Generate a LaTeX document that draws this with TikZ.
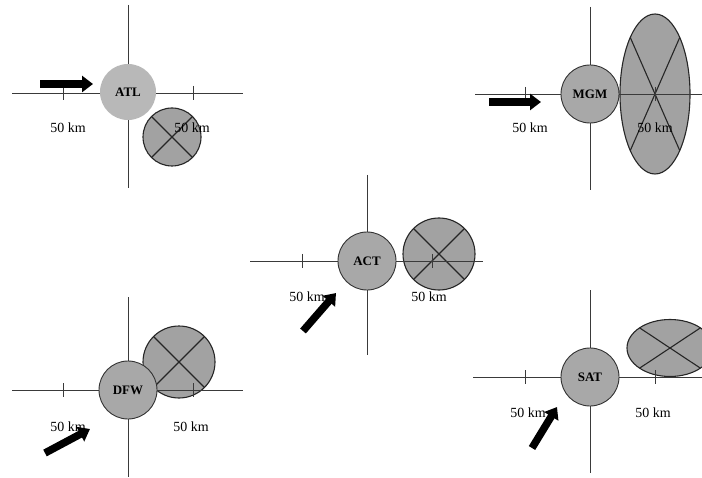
\documentclass[tikz,border=0pt]{standalone}
\usepackage{fontspec}
\setmainfont{Liberation Serif}
\usetikzlibrary{arrows.meta}
\definecolor{axisgray}{HTML}{3A3A3A}
\definecolor{stationfill}{HTML}{A8A8A8}
\definecolor{stationlight}{HTML}{B8B8B8}
\definecolor{spreadfill}{HTML}{A2A2A2}
\tikzset{
  axis/.style={draw=axisgray, line width=0.9bp},
  tick/.style={draw=axisgray, line width=0.9bp},
  station/.style={circle, minimum size=58bp, inner sep=0pt, fill=stationfill,
    draw=black!80, line width=0.9bp, font=\fontsize{13}{14}\selectfont\bfseries},
  stationplain/.style={station, fill=stationlight, draw=none},
  spread/.style={fill=spreadfill, draw=black!85, line width=1.1bp},
  cross/.style={draw=black!85, line width=1.1bp},
  dist/.style={inner sep=0pt, font=\fontsize{14}{15}\selectfont},
  motion/.style={draw=black, line width=7.5bp, -{Triangle[length=11bp,width=16bp]}}
}
\begin{document}
\begin{tikzpicture}[x=1bp, y=-1bp]
\useasboundingbox (0,0) rectangle (702,478);
\clip (0,0) rectangle (702,478);
\fill[white] (0,0) rectangle (702,478);

% ---------- spread shapes (circle or ellipse with crossed diameters) ----------
\begin{scope}[shift={(172,137)}]
  \draw[spread] (0,0) circle (29);
  \draw[cross] (45:29) -- (225:29) (135:29) -- (315:29);
\end{scope}
\begin{scope}[shift={(655,94)}, xscale=35, yscale=80]
  \draw[spread] (0,0) circle (1);
  \draw[cross] (45:1) -- (225:1) (135:1) -- (315:1);
\end{scope}
\begin{scope}[shift={(439,254)}]
  \draw[spread] (0,0) circle (36);
  \draw[cross] (45:36) -- (225:36) (135:36) -- (315:36);
\end{scope}
\begin{scope}[shift={(179,362)}]
  \draw[spread] (0,0) circle (36);
  \draw[cross] (45:36) -- (225:36) (135:36) -- (315:36);
\end{scope}
\begin{scope}[shift={(670,348)}, xscale=43, yscale=28.5]
  \draw[spread] (0,0) circle (1);
  \draw[cross] (45:1) -- (225:1) (135:1) -- (315:1);
\end{scope}

% ---------- axes with 50 km ticks ----------
% ATL
\draw[axis] (12,93) -- (243,93) (128,5) -- (128,188);
\draw[tick] (63,86) -- (63,100) (193,86) -- (193,100);
% MGM
\draw[axis] (475,94) -- (702,94) (590,7) -- (590,190);
\draw[tick] (525,87) -- (525,101) (655,87) -- (655,101);
% ACT
\draw[axis] (250,261) -- (483,261) (367,175) -- (367,355);
\draw[tick] (302,254) -- (302,268) (432,254) -- (432,268);
% DFW
\draw[axis] (12,390) -- (243,390) (128,297) -- (128,477);
\draw[tick] (63,383) -- (63,397) (193,383) -- (193,397);
% SAT
\draw[axis] (473,377) -- (702,377) (590,290) -- (590,473);
\draw[tick] (525,370) -- (525,384) (655,370) -- (655,384);

% ---------- stations ----------
\node[stationplain, minimum size=56bp] (atl) at (128,92) {ATL};
\node[station] (mgm) at (590,94) {MGM};
\node[station] (act) at (367,261) {ACT};
\node[station] (dfw) at (128,390) {DFW};
\node[station] (sat) at (590,377) {SAT};

% ---------- distance labels ----------
\node[dist] (atlL) at (68,128) {50 km};
\node[dist] (atlR) at (192,128) {50 km};
\node[dist] (mgmL) at (530,128) {50 km};
\node[dist] (mgmR) at (655,128) {50 km};
\node[dist] (actL) at (307,297) {50 km};
\node[dist] (actR) at (429,297) {50 km};
\node[dist] (dfwL) at (68,427) {50 km};
\node[dist] (dfwR) at (191,427) {50 km};
\node[dist] (satL) at (528,413) {50 km};
\node[dist] (satR) at (653,413) {50 km};

% ---------- motion arrows ----------
\coordinate (atlA) at (40,84);   \coordinate (atlB) at (93,84);
\coordinate (mgmA) at (489,102); \coordinate (mgmB) at (541,102);
\coordinate (actA) at (303,331); \coordinate (actB) at (336,293);
\coordinate (dfwA) at (45,453);  \coordinate (dfwB) at (90,429);
\coordinate (satA) at (532,448); \coordinate (satB) at (557,407);
\draw[motion] (atlA) -- (atlB);
\draw[motion] (mgmA) -- (mgmB);
\draw[motion] (actA) -- (actB);
\draw[motion] (dfwA) -- (dfwB);
\draw[motion] (satA) -- (satB);
\end{tikzpicture}
\end{document}
